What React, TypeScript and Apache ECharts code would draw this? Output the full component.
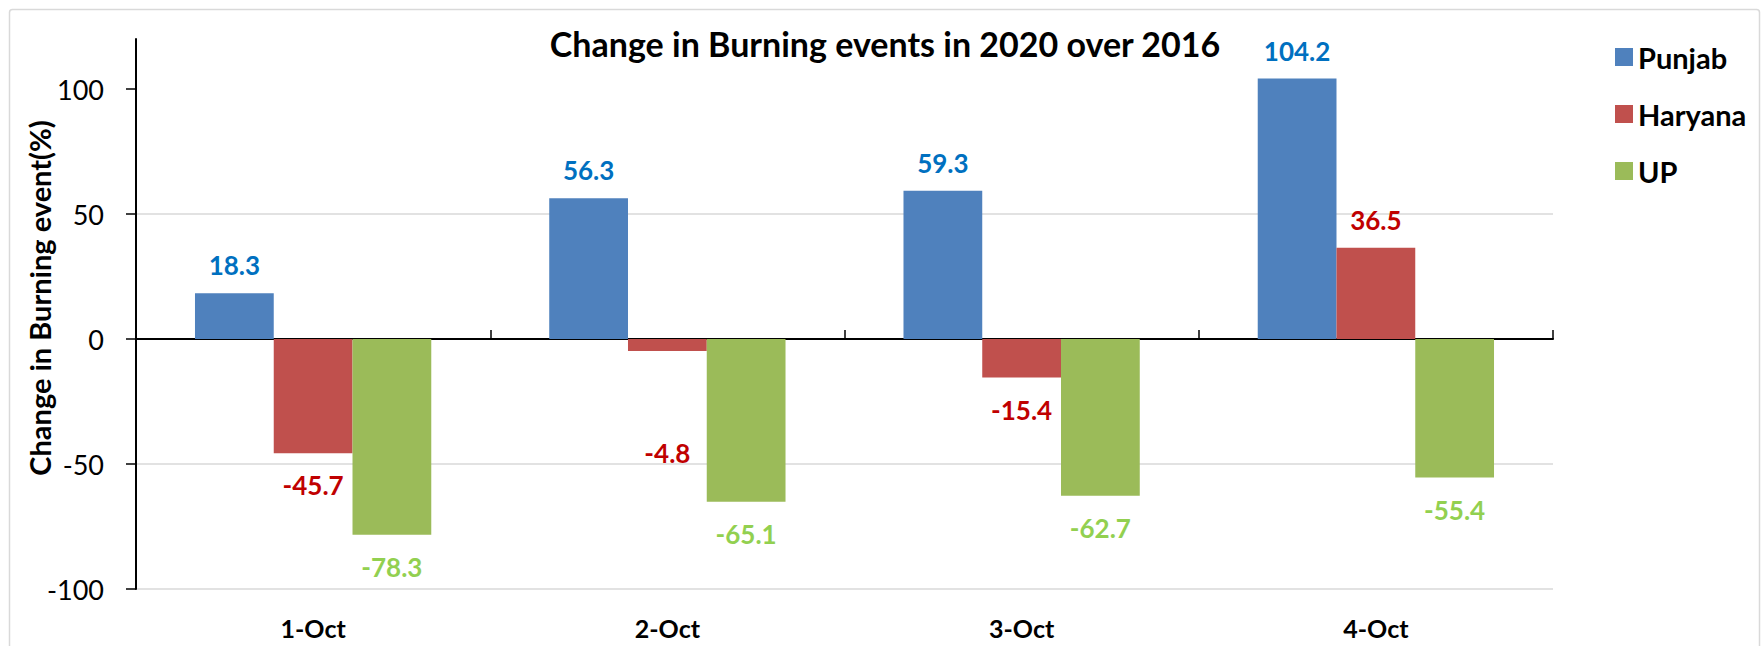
import React, { useEffect, useRef } from "react";
import * as echarts from "echarts";

const categories = ["1-Oct", "2-Oct", "3-Oct", "4-Oct"];
const seriesNames = ["Punjab", "Haryana", "UP"];
const punjab = [18.3, 56.3, 59.3, 104.2];
const haryana = [-45.7, -4.8, -15.4, 36.5];
const up = [-78.3, -65.1, -62.7, -55.4];
const yTicks = [-100, -50, 0, 50, 100];
const titleText = "Change in Burning events in 2020 over 2016";
const yAxisTitle = "Change in Burning event(%)";

const barColors = ["#4F81BD", "#C0504D", "#9BBB59"];
const labelColors = ["#0070C0", "#C00000", "#92D050"];
// manual label nudges (Excel-style moved labels), by series and category
const labelNudges: Record<string, number[]> = { "1-1": [0, 70] };

const FONT = "Lato";

export default function App() {
  const ref = useRef<HTMLDivElement>(null);
  useEffect(() => {
    if (!ref.current) return;
    const chart = echarts.init(ref.current, null, { renderer: "svg" });
    const allValues = [punjab, haryana, up];
    const series = allValues.map((vals, si) => ({
      name: seriesNames[si],
      type: "bar",
      xAxisIndex: 0,
      barGap: "0%",
      barCategoryGap: "33.3%",
      itemStyle: { color: barColors[si] },
      label: {
        show: true,
        color: labelColors[si],
        fontFamily: FONT,
        fontWeight: "bold",
        fontSize: 26,
        formatter: (p: any) => String(p.value),
      },
      data: vals.map((v, ci) => {
        const nudge = labelNudges[`${si}-${ci}`];
        return {
          value: v,
          label: {
            position: v < 0 ? "bottom" : "top",
            distance: v < 0 ? 19 : 15,
            ...(nudge ? { offset: nudge } : {}),
          },
        };
      }),
    }));

    chart.setOption({
      animation: false,
      backgroundColor: "#ffffff",
      textStyle: { fontFamily: FONT },
      title: {
        text: titleText,
        left: 880,
        top: 21,
        textAlign: "center",
        textStyle: { fontFamily: FONT, fontWeight: "bold", fontSize: 34, color: "#000" },
      },
      legend: {
        orient: "vertical",
        left: 1610,
        top: 37,
        itemWidth: 18,
        itemHeight: 18,
        itemGap: 27,
        icon: "rect",
        data: seriesNames,
        textStyle: { fontFamily: FONT, fontWeight: "bold", fontSize: 29, color: "#000", lineHeight: 30 },
      },
      graphic: [
        {
          type: "rect",
          shape: { x: 9.5, y: 9.5, width: 1750, height: 700, r: 3 },
          style: { fill: "none", stroke: "#d9d9d9", lineWidth: 1.5 },
          silent: true,
          z: -1,
        },
      ],
      grid: { left: 136, right: 209, top: 39, bottom: 57, containLabel: false },
      xAxis: [
        {
          type: "category",
          data: categories,
          position: "bottom",
          axisLine: { show: false, onZero: false },
          axisTick: { show: false },
          splitLine: { show: false },
          axisLabel: { fontFamily: FONT, fontWeight: "bold", fontSize: 25, color: "#000", margin: 26 },
        },
        {
          type: "category",
          data: categories,
          position: "bottom",
          axisLine: { show: true, onZero: true, lineStyle: { color: "#000", width: 2 } },
          axisTick: { show: true, inside: true, length: 9, lineStyle: { color: "#000", width: 1.5 } },
          axisLabel: { show: false },
          splitLine: { show: false },
        },
      ],
      yAxis: {
        type: "value",
        min: -100,
        max: 120,
        interval: 50,
        name: yAxisTitle,
        nameLocation: "middle",
        nameRotate: 90,
        nameGap: 82,
        nameMoveOverlap: false,
        nameTextStyle: {
          fontFamily: FONT,
          fontWeight: "bold",
          fontSize: 29,
          color: "#000",
          padding: [0, 0, 0, 32],
        },
        axisLine: { show: true, onZero: false, lineStyle: { color: "#000", width: 2 } },
        axisTick: { show: true, length: 10, customValues: yTicks, lineStyle: { color: "#000", width: 1.5 } },
        axisLabel: {
          customValues: yTicks,
          fontFamily: FONT,
          fontSize: 27,
          color: "#000",
          margin: 32,
        },
        splitLine: { show: true, showMaxLine: false, lineStyle: { color: "#d9d9d9", width: 1.5 } },
      },
      series,
    });
    return () => chart.dispose();
  }, []);
  return (
    <div
      ref={ref}
      style={{ position: "fixed", left: 0, top: 0, width: 1762, height: 646, background: "#fff" }}
    />
  );
}
